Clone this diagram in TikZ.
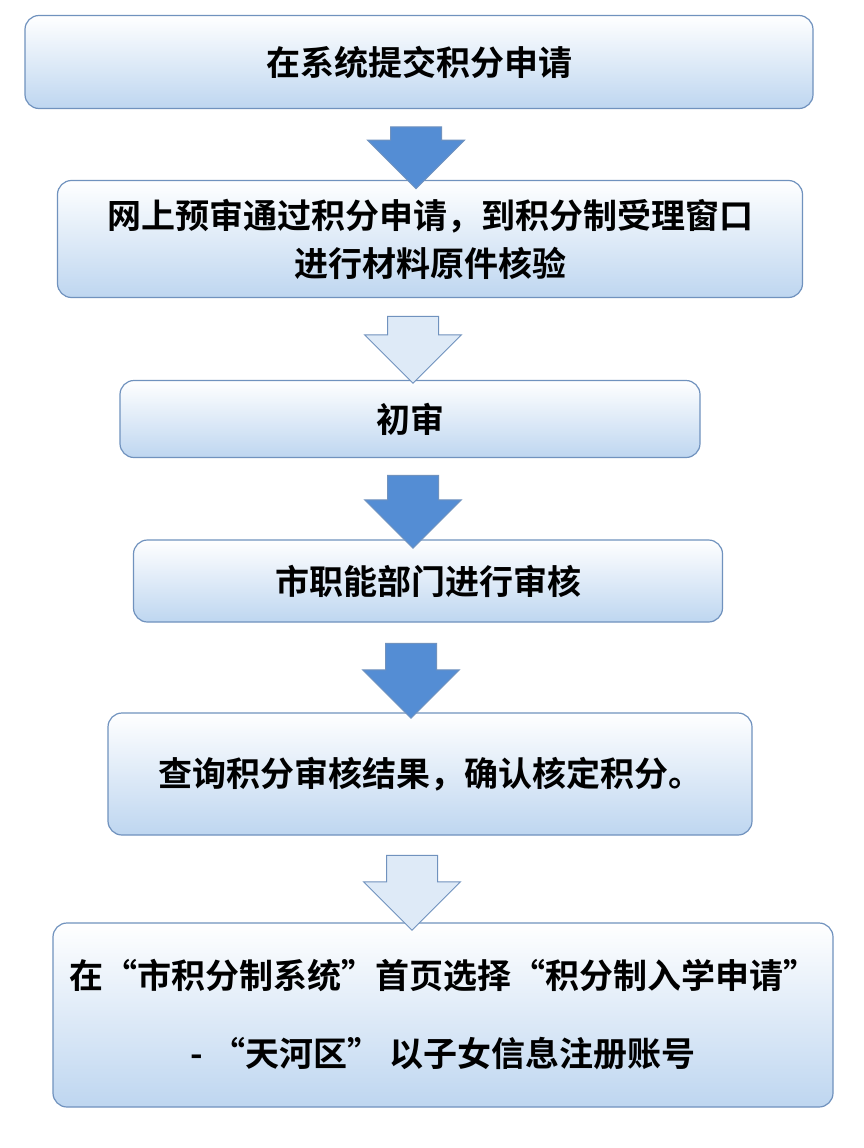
\documentclass[tikz,border=0pt]{standalone}
\usepackage{fontspec}
\setmainfont{Noto Sans CJK SC Bold}
\usetikzlibrary{shapes.arrows}
\definecolor{boxline}{RGB}{112,146,190}
\definecolor{boxlow}{RGB}{190,214,240}
\definecolor{arrowblue}{RGB}{84,141,212}
\definecolor{arrowlight}{RGB}{222,234,247}
\tikzset{
  stepbox/.style={draw=boxline, line width=1.2pt, rounded corners=14pt,
    top color=white, bottom color=boxlow, font=\fontsize{34}{48}\selectfont,
    align=center, inner sep=0pt},
  downarrow/.style={single arrow, shape border rotate=270, draw=boxline,
    line width=1pt, minimum width=97pt, single arrow head extend=23pt,
    single arrow tip angle=90, inner sep=0pt, text width=50pt},
}
\begin{document}
\begin{tikzpicture}[x=1pt,y=-1pt]
    \useasboundingbox (0,0) rectangle (864,1148);
    \fill[white] (0,0) rectangle (864,1148);
    \node[stepbox, minimum width=788pt, minimum height=93pt] (submit) at (419,62) {在系统提交积分申请};
    \node[stepbox, minimum width=745pt, minimum height=117pt] (verify) at (430,239) {网上预审通过积分申请，到积分制受理窗口\\进行材料原件核验};
    \node[stepbox, minimum width=580pt, minimum height=77pt] (first) at (410,419) {初审};
    \node[stepbox, minimum width=589pt, minimum height=82pt] (dept) at (428,581) {市职能部门进行审核};
    \node[stepbox, minimum width=644pt, minimum height=122pt] (result) at (430,774) {查询积分审核结果，确认核定积分。};
    \node[stepbox, minimum width=780pt, minimum height=184pt] (register) at (443,1015) {在“市积分制系统”首页选择“积分制入学申请”\\[30pt]- “天河区” 以子女信息注册账号};

    \node[downarrow, fill=arrowblue, minimum height=62pt] (a1) at (416,145) {};
    \node[downarrow, fill=arrowlight, minimum height=67pt] (a2) at (413,337) {};
    \node[downarrow, fill=arrowblue, minimum height=73pt] (a3) at (413,499) {};
    \node[downarrow, fill=arrowblue, minimum height=75pt] (a4) at (411,668) {};
    \node[downarrow, fill=arrowlight, minimum height=75pt] (a5) at (412,880) {};
\end{tikzpicture}
\end{document}
